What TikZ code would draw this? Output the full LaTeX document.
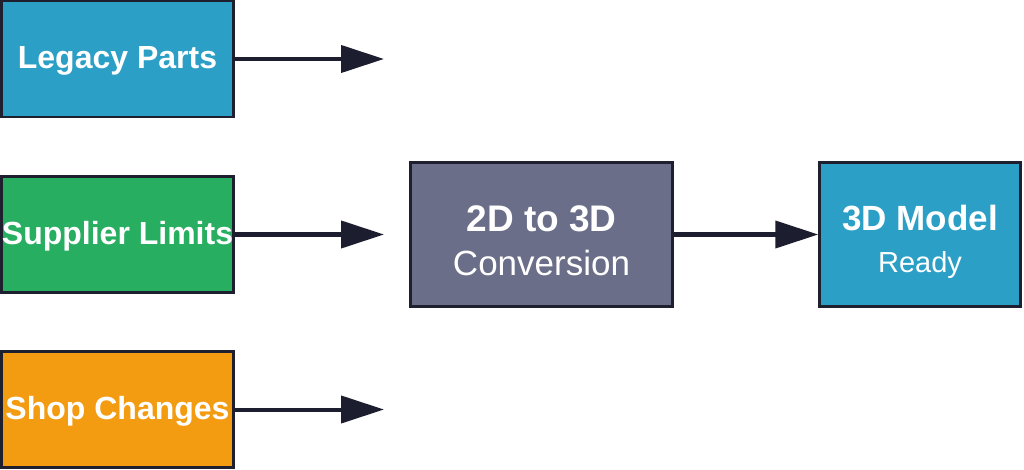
\documentclass[tikz,border=0pt]{standalone}
\usepackage{fontspec}
\setmainfont{Liberation Sans}
\usetikzlibrary{arrows.meta}
\definecolor{cblue}{HTML}{2B9FC6}
\definecolor{cgreen}{HTML}{27AE60}
\definecolor{corange}{HTML}{F39C12}
\definecolor{cgray}{HTML}{6A6E88}
\definecolor{cdark}{HTML}{1E2030}
\definecolor{carrow}{HTML}{1C1D2E}
\tikzset{
  boxnode/.style={draw=cdark, line width=2.5pt, rectangle, inner sep=0pt, text=white},
  lbox/.style={boxnode, minimum width=232pt, minimum height=116pt, text height=25pt, text depth=6pt, font=\fontsize{32}{36}\selectfont\bfseries},
  bigbox/.style={boxnode, minimum height=144pt},
  ttl/.style={text=white, anchor=base, inner sep=0pt},
  conn/.style={draw=carrow, line width=4pt, -{Triangle[length=43pt,width=27pt]}}
}
\begin{document}
\begin{tikzpicture}[x=1pt,y=-1pt]
\useasboundingbox (0,0) rectangle (1024,470);
\node[lbox, fill=cblue] (legacy) at (117.5,59) {Legacy Parts};
\node[lbox, fill=cgreen] (supplier) at (117.5,234.5) {Supplier Limits};
\node[lbox, fill=corange] (shop) at (117.5,409.5) {Shop Changes};
\node[bigbox, fill=cgray, minimum width=262pt] (conv) at (541.5,234.5) {};
\node[bigbox, fill=cblue, minimum width=201pt] (model) at (920,234.5) {};
\node[ttl, font=\fontsize{37}{40}\selectfont\bfseries] (convA) at (541.5,232) {2D to 3D};
\node[ttl, font=\fontsize{35}{40}\selectfont] (convB) at (541.5,275) {Conversion};
\node[ttl, font=\fontsize{35}{40}\selectfont\bfseries] (modelA) at (920,230) {3D Model};
\node[ttl, font=\fontsize{29}{34}\selectfont] (modelB) at (920,272) {Ready};
\coordinate (e1) at (384,59);
\coordinate (e2) at (384,234.5);
\coordinate (e3) at (384,409.5);
\draw[conn] (legacy.east) -- (e1);
\draw[conn] (supplier.east) -- (e2);
\draw[conn] (shop.east) -- (e3);
\draw[conn] (conv.east) -- (model.west);
\end{tikzpicture}
\end{document}
